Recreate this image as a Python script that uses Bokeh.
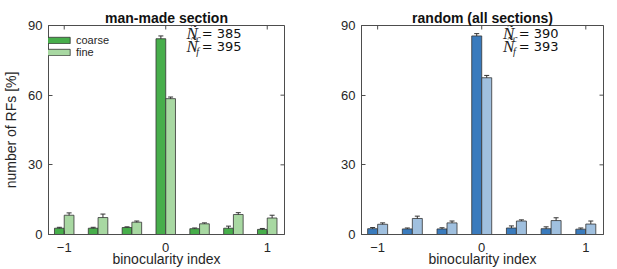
from bokeh.plotting import figure
from bokeh.models import Range1d, FixedTicker, Whisker, ColumnDataSource, TeeHead, Legend, LegendItem
from bokeh.layouts import row
from bokeh.embed import file_html
from bokeh.resources import INLINE
from bokeh.core.properties import value
import math

# ---- data ----
bins = [-1, -2/3, -1/3, 0, 1/3, 2/3, 1]
mm_coarse = [2.7, 2.7, 3.0, 84.3, 2.5, 2.7, 2.2]
mm_coarse_err = [0.4, 0.4, 0.3, 1.2, 0.3, 0.9, 0.4]
mm_fine = [8.3, 7.3, 5.3, 58.5, 4.6, 8.6, 7.1]
mm_fine_err = [1.0, 1.5, 0.5, 0.7, 0.4, 0.8, 1.2]
rnd_coarse = [2.5, 2.4, 2.4, 85.5, 2.8, 2.5, 2.3]
rnd_coarse_err = [0.5, 0.4, 0.5, 1.0, 0.9, 0.8, 0.5]
rnd_fine = [4.4, 6.9, 5.0, 67.5, 5.8, 6.0, 4.5]
rnd_fine_err = [0.6, 1.0, 0.8, 1.0, 0.5, 1.2, 1.3]
mm_counts = ["385", "395"]
rnd_counts = ["390", "393"]
titles = ["man-made section", "random (all sections)"]
y_ticks = [0, 30, 60, 90]
x_ticks = [-1, 0, 1]
X0, X1 = -1.155, 1.17
Y0, Y1 = 0, 90

TXT = "#262626"
AX = "#4d4d4d"
BW = 0.096


def make_panel(title, coarse, cerr, fine, ferr, counts, c1, c2, width, bl, br, ylabel, legend):
    p = figure(width=width, height=269, output_backend="svg", toolbar_location=None,
               x_range=Range1d(X0, X1), y_range=Range1d(Y0, Y1),
               min_border_left=bl, min_border_right=br, min_border_top=25, min_border_bottom=0)
    p.title.text = title
    p.title.align = "center"
    p.title.text_font = "Liberation Sans"
    p.title.text_font_size = "14px"
    p.title.text_font_style = "bold"
    p.title.text_color = "#111111"
    p.title.standoff = 0
    p.grid.visible = False
    p.outline_line_color = AX
    p.background_fill_color = "white"
    p.border_fill_color = "white"

    for ax in p.xaxis + p.yaxis:
        ax.major_label_text_font = "Liberation Sans"
        ax.major_label_text_font_size = "13px"
        ax.major_label_text_color = TXT
        ax.axis_label_text_font = "Liberation Sans"
        ax.axis_label_text_font_size = "14px"
        ax.axis_label_text_font_style = "normal"
        ax.axis_label_text_color = TXT
        ax.axis_line_color = AX
        ax.major_tick_line_color = AX
        ax.major_tick_in = 4
        ax.major_tick_out = 0
        ax.minor_tick_line_color = None
    p.xaxis.ticker = FixedTicker(ticks=x_ticks)
    p.yaxis.ticker = FixedTicker(ticks=y_ticks)
    p.xaxis.axis_label = "binocularity index"
    p.xaxis.major_label_standoff = 8
    p.xaxis.axis_label_standoff = -4
    p.yaxis.major_label_standoff = 6
    if ylabel:
        p.yaxis.axis_label = ylabel
        p.yaxis.axis_label_standoff = 6

    # inward ticks on the right and top borders (half of each dash is clipped by the frame)
    p.scatter(x=[X1] * len(y_ticks), y=y_ticks, marker="dash", size=8, line_color=AX, line_width=1)
    p.scatter(x=x_ticks, y=[Y1] * len(x_ticks), marker="dash", size=8, angle=math.pi / 2,
              line_color=AX, line_width=1)

    xc = [b - BW / 2 for b in bins]
    xf = [b + BW / 2 for b in bins]
    src_c = ColumnDataSource(dict(x=xc, top=coarse, lo=[v - e for v, e in zip(coarse, cerr)],
                                  hi=[v + e for v, e in zip(coarse, cerr)]))
    src_f = ColumnDataSource(dict(x=xf, top=fine, lo=[v - e for v, e in zip(fine, ferr)],
                                  hi=[v + e for v, e in zip(fine, ferr)]))
    rc = p.vbar(x="x", top="top", bottom=0, width=BW, source=src_c, fill_color=c1,
                line_color="#333333", line_width=0.8)
    rf = p.vbar(x="x", top="top", bottom=0, width=BW, source=src_f, fill_color=c2,
                line_color="#333333", line_width=0.8)
    for s in (src_c, src_f):
        w = Whisker(base="x", lower="lo", upper="hi", source=s, line_color="#333333", line_width=1,
                    upper_head=TeeHead(size=5, line_color="#333333", line_width=1),
                    lower_head=TeeHead(size=5, line_color="#333333", line_width=1))
        p.add_layout(w)

    if legend:
        lg = Legend(items=[LegendItem(label="coarse", renderers=[rc]),
                           LegendItem(label="fine", renderers=[rf])],
                    location=(-8, 176), margin=0, padding=0, spacing=0,
                    glyph_width=33, glyph_height=8, label_height=11,
                    label_text_font="Liberation Sans",
                    label_text_font_size="11px", label_text_color=TXT, label_standoff=3,
                    border_line_color=None, background_fill_alpha=0)
        p.add_layout(lg)

    # N annotations
    p.text(x=[0.205, 0.205], y=[86.6, 80.8], text=["Ñ", "Ñ"], text_font=value("Liberation Serif"),
           text_font_style="italic", text_font_size="17px", text_color="#222222",
           text_baseline="middle", text_align="left")
    p.text(x=[0.3, 0.3], y=[84.6, 78.8], text=["c", "f"], text_font=value("Liberation Serif"),
           text_font_style="italic", text_font_size="10px", text_color="#222222",
           text_baseline="middle", text_align="left")
    p.text(x=[0.355, 0.355], y=[86.6, 80.8], text=["= " + counts[0], "= " + counts[1]],
           text_font=value("DejaVu Sans"), text_font_size="13px", text_color="#111111",
           text_baseline="middle", text_align="left")
    return p


p1 = make_panel(titles[0], mm_coarse, mm_coarse_err, mm_fine, mm_fine_err, mm_counts,
                "#47ae4b", "#a8d8a2", 310, 42, 26, "number of RFs [%]", True)
p2 = make_panel(titles[1], rnd_coarse, rnd_coarse_err, rnd_fine, rnd_fine_err, rnd_counts,
                "#3a7bbd", "#a0c0df", 307, 51, 14, None, False)

layout = row(p1, p2, spacing=0)
open("out.html", "w").write(file_html(layout, INLINE))
